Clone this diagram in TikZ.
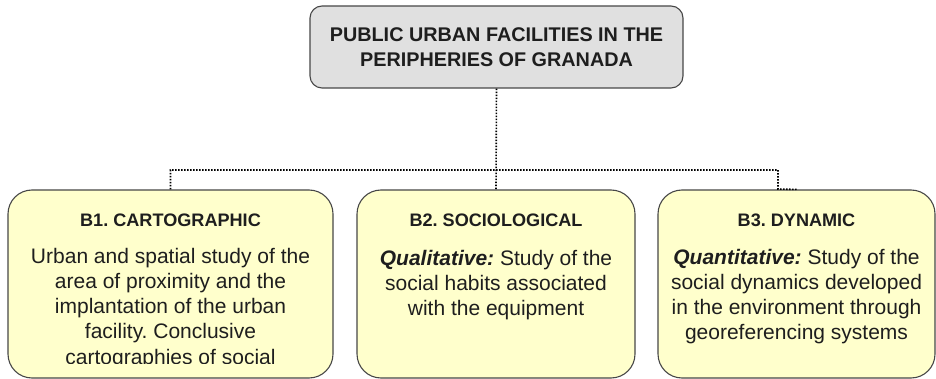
\documentclass[tikz,border=0pt]{standalone}
\usepackage{fontspec}
\setmainfont{Liberation Sans}
\frenchspacing
\definecolor{boxline}{HTML}{474747}
\definecolor{cardfill}{HTML}{FFFFCC}
\definecolor{titlefill}{HTML}{E0E0E0}
\definecolor{textcol}{HTML}{1E1E1E}
\begin{document}
\begin{tikzpicture}[x=1pt,y=-1pt,
  card/.style={draw=boxline, line width=1.1pt, rounded corners=24pt, fill=cardfill, inner sep=0pt},
  titlebox/.style={draw=boxline, line width=1.1pt, rounded corners=12pt, fill=titlefill, inner sep=0pt},
  link/.style={dash pattern=on 1.6pt off 1.4pt, line width=1.6pt, black},
  head/.style={font=\fontsize{18.1}{21}\selectfont\bfseries, text=textcol, anchor=base, inner sep=0pt},
  body/.style={font=\fontsize{21}{25.3}\selectfont, text=textcol, align=center, anchor=base, inner sep=0pt},
  ttl/.style={font=\fontsize{19.8}{25}\selectfont\bfseries, text=textcol, align=center, anchor=base, inner sep=0pt}]
\useasboundingbox (0,0) rectangle (936,379);
\clip (0,0) rectangle (936,379);

% title box (multi-line text nodes are placed by the baseline of their last line)
\node[titlebox, minimum width=373pt, minimum height=82pt] (top) at (496.5,47) {};
\node[ttl] (toptext) at (496.5,67) {PUBLIC URBAN FACILITIES IN THE\\PERIPHERIES OF GRANADA};

% the three study blocks
\node[card, minimum width=325pt, minimum height=188pt] (b1) at (170.5,284) {};
\node[card, minimum width=278pt, minimum height=188pt] (b2) at (496,284) {};
\node[card, minimum width=277pt, minimum height=188pt] (b3) at (796.5,284) {};

\node[head] (h1) at (170.5,226) {B1. CARTOGRAPHIC};
\node[head] (h2) at (496,227) {B2. SOCIOLOGICAL};
\node[head] (h3) at (796.5,227) {B3. DYNAMIC};

\begin{scope}
  \clip (10,190) rectangle (332,363);
  \node[body] (t1) at (170.5,364.2) {Urban and spatial study of the\\area of proximity and the\\implantation of the urban\\facility. Conclusive\\cartographies of social};
\end{scope}
\node[body] (t2) at (496,315.6) {\textbf{\textit{Qualitative:}} Study of the\\social habits associated\\with the equipment};
\node[body] (t3) at (796.5,339.9) {\textbf{\textit{Quantitative:}} Study of the\\social dynamics developed\\in the environment through\\georeferencing systems};

% dotted connectors
\coordinate (hr) at (778,170);
\coordinate (b3bend) at (778,189);
\draw[link] (top.south) -- (b2.north);
\draw[link] (b1.north) |- (hr) -- (b3bend) -- (b3.north);
\end{tikzpicture}
\end{document}
